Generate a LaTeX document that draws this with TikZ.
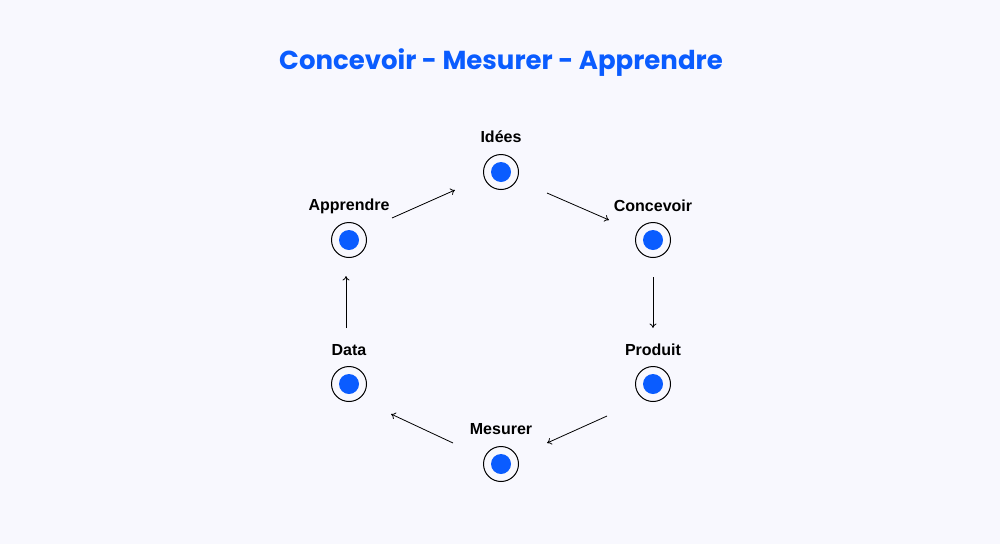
\documentclass[tikz,border=0pt]{standalone}
\usepackage{fontspec}
\setmainfont{Liberation Sans}
\newfontfamily\titlefont{Poppins}
\usetikzlibrary{arrows.meta}
\definecolor{bg}{HTML}{F8F8FE}
\definecolor{blu}{HTML}{0A5CFF}
\tikzset{
  dot/.style={circle,draw=black,line width=1pt,minimum size=35pt,inner sep=0pt,
    path picture={\fill[blu] (path picture bounding box.center) circle (10pt);}},
  lbl/.style={font=\fontsize{16}{19}\selectfont\bfseries,text=black},
  conn/.style={-{To[length=4.5pt,width=7pt]},line width=0.8pt,black}
}
\begin{document}
\begin{tikzpicture}[x=1pt,y=-1pt]
\fill[bg] (0,0) rectangle (1000,544);
\useasboundingbox (0,0) rectangle (1000,544);
\node[font=\titlefont\fontsize{26}{31}\selectfont\bfseries,text=blu] (title) at (501,63) {Concevoir - Mesurer - Apprendre};
\node[dot] (ide) at (501,172) {};
\node[dot] (app) at (349,240) {};
\node[dot] (con) at (653,240) {};
\node[dot] (dat) at (349,384) {};
\node[dot] (pro) at (653,384) {};
\node[dot] (mes) at (501,464) {};
\node[lbl] (lide) at (501,137) {Idées};
\node[lbl] (lapp) at (349,206) {Apprendre};
\node[lbl] (lcon) at (653,206) {Concevoir};
\node[lbl] (ldat) at (349,350) {Data};
\node[lbl] (lpro) at (653,350) {Produit};
\node[lbl] (lmes) at (501,429) {Mesurer};
\coordinate (a1) at (392,218); \coordinate (a2) at (455,190);
\coordinate (b1) at (547,193); \coordinate (b2) at (609,220);
\coordinate (c1) at (653,277); \coordinate (c2) at (653,328);
\coordinate (d1) at (607,416); \coordinate (d2) at (547,443);
\coordinate (e1) at (453,443); \coordinate (e2) at (391,414);
\coordinate (f1) at (346,328); \coordinate (f2) at (346,276);
\draw[conn] (a1) -- (a2);
\draw[conn] (b1) -- (b2);
\draw[conn] (c1) -- (c2);
\draw[conn] (d1) -- (d2);
\draw[conn] (e1) -- (e2);
\draw[conn] (f1) -- (f2);
\end{tikzpicture}
\end{document}
